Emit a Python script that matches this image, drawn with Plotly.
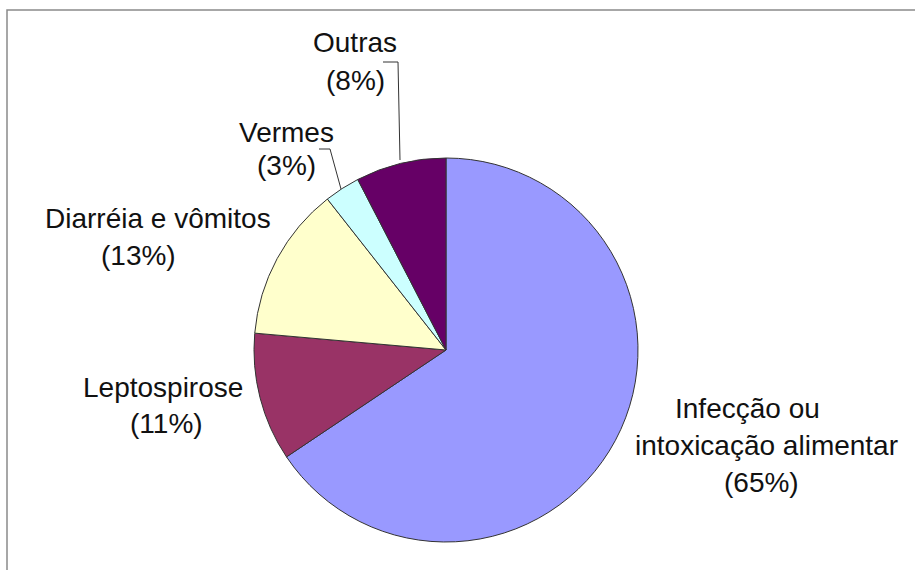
import plotly.graph_objects as go

W, H = 915, 570

categories = ["Infecção ou intoxicação alimentar", "Leptospirose", "Diarréia e vômitos", "Vermes", "Outras"]
values = [65.6, 10.8, 13.0, 3.0, 7.6]
percent_labels = ["(65%)", "(11%)", "(13%)", "(3%)", "(8%)"]
label_lines = [["Infecção ou", "intoxicação alimentar"], ["Leptospirose"], ["Diarréia e vômitos"], ["Vermes"], ["Outras"]]
colors = ["#9999FF", "#993366", "#FFFFCC", "#CCFFFF", "#660066"]

# label line centre positions in pixels (layout)
line_pos = [
    [(747, 408), (766, 445), (761, 482)],
    [(163, 387), (166, 423)],
    [(158, 219), (138, 255)],
    [(286, 132), (286, 165)],
    [(355, 42), (355, 80)],
]

def px(x):
    return x / W

def py(y):
    return 1 - y / H

cx, cy, r = 446, 350, 192

fig = go.Figure(go.Pie(
    labels=categories,
    values=values,
    sort=False,
    direction="clockwise",
    rotation=0,
    textinfo="none",
    marker=dict(colors=colors, line=dict(color="#333333", width=1)),
    domain=dict(x=[px(cx - r), px(cx + r)], y=[py(cy + r), py(cy - r)]),
    showlegend=False,
))

annotations = []
for lines, pct, pos in zip(label_lines, percent_labels, line_pos):
    texts = lines + [pct]
    for t, (x, y) in zip(texts, pos):
        annotations.append(dict(
            x=px(x), y=py(y), xref="paper", yref="paper",
            text=t, showarrow=False, xanchor="center", yanchor="middle",
            font=dict(family="Liberation Sans, Arial, sans-serif", size=28, color="#111111"),
        ))

def path(points):
    s = "M " + " L ".join(f"{px(x)},{py(y)}" for x, y in points)
    return s

shapes = [
    # frame
    dict(type="rect", xref="paper", yref="paper", x0=px(7), y0=-0.05, x1=1.05, y1=py(10),
         line=dict(color="#8a8a8a", width=1.5), fillcolor="rgba(0,0,0,0)"),
    # leader line Outras
    dict(type="path", xref="paper", yref="paper", path=path([(383, 62), (398, 62), (400, 160)]),
         line=dict(color="#333333", width=1)),
    # leader line Vermes
    dict(type="path", xref="paper", yref="paper", path=path([(319, 149), (330, 149), (341, 189)]),
         line=dict(color="#333333", width=1)),
]

fig.update_layout(
    width=W, height=H,
    margin=dict(l=0, r=0, t=0, b=0),
    paper_bgcolor="white",
    plot_bgcolor="white",
    annotations=annotations,
    shapes=shapes,
)

fig.write_html("out.html", config={"displayModeBar": False},
               post_script="document.body.style.margin='0';document.body.style.overflow='hidden';")
